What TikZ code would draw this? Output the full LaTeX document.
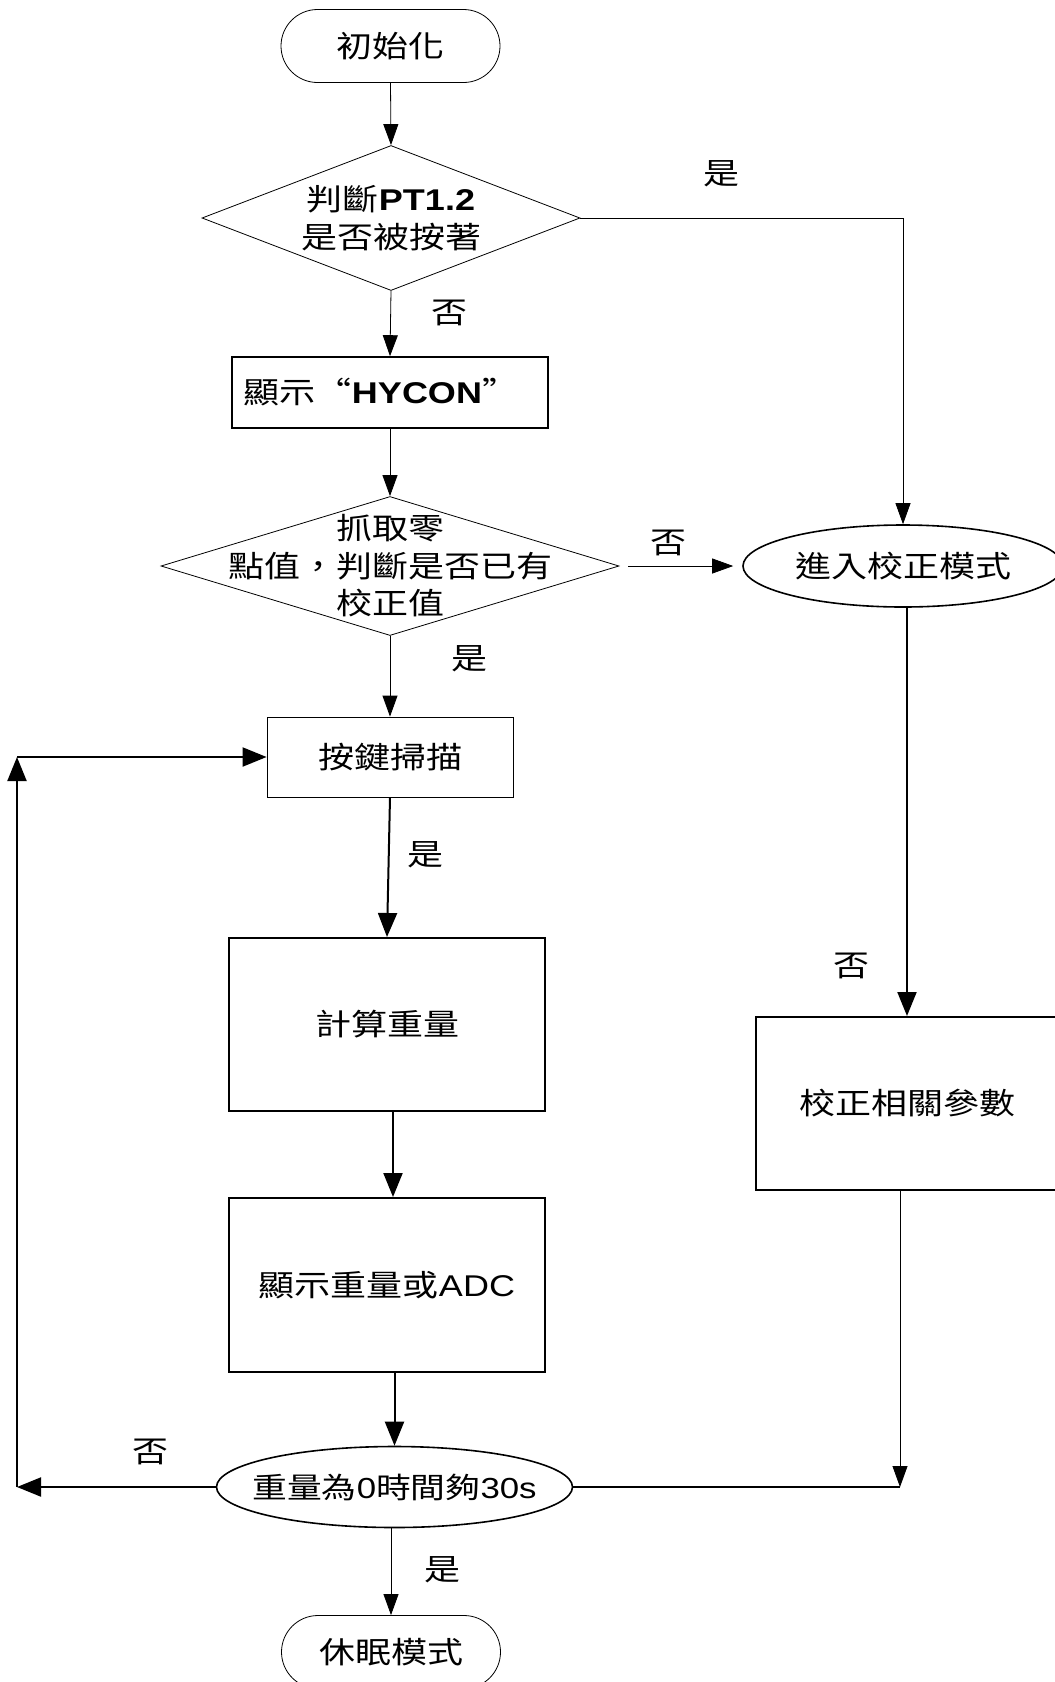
\documentclass[tikz,border=0pt]{standalone}
\usepackage{fontspec}
\setmainfont{Noto Sans CJK TC}[FakeStretch=1.2]
\newfontfamily\lat{Liberation Sans}[FakeStretch=1.2]
\usetikzlibrary{arrows.meta,shapes.geometric,shapes.misc}
\tikzset{
  thinl/.style={line width=0.8pt},
  thickl/.style={line width=2pt},
  arr/.style={-{Triangle[length=21pt,width=15pt]}},
  tarr/.style={-{Triangle[length=24pt,width=19pt]}},
  txt/.style={font=\fontsize{30}{37.5}\selectfont, align=center, inner sep=0pt},
  term/.style={rounded rectangle, draw, line width=0.8pt, minimum width=219, minimum height=73, inner sep=0pt, txt},
  decision/.style={diamond, draw, line width=0.8pt, inner sep=0pt},
  oval/.style={ellipse, draw, line width=1.6pt, inner sep=0pt},
  boxthin/.style={rectangle, draw, line width=0.8pt, inner sep=0pt, txt},
  boxthick/.style={rectangle, draw, line width=2pt, inner sep=0pt, txt},
  lbl/.style={txt}
}
\begin{document}
\begin{tikzpicture}[x=1pt,y=-1pt]
\useasboundingbox (0,0) rectangle (1055,1682);

% nodes
\node[term] (start) at (390.5,46) {初始化};
\node[decision, minimum width=378, minimum height=145,
      label={[txt]center:{判斷{\lat\bfseries PT1.2}\\是否被按著}}] (d1) at (391,218) {};
\node[rectangle, draw, line width=1.6pt, minimum width=316, minimum height=71,
      label={[txt,xshift=-9pt]center:{顯示“{\lat\bfseries HYCON}”}}] (hy) at (390,392.5) {};
\node[decision, minimum width=458, minimum height=139,
      label={[txt]center:{抓取零\\點值，判斷是否已有\\校正值}}] (d2) at (390,566) {};
\node[oval, minimum width=320, minimum height=82,
      label={[txt]center:{進入校正模式}}] (e1) at (903,566) {};
\node[boxthin, minimum width=246, minimum height=80] (key) at (390,757) {按鍵掃描};
\node[boxthick, minimum width=316, minimum height=173] (calc) at (387,1024.5) {計算重量};
\node[boxthick, minimum width=316, minimum height=174] (disp) at (387,1285) {顯示重量或{\lat ADC}};
\node[boxthick, minimum width=302, minimum height=173] (cal) at (907,1103.5) {校正相關參數};
\node[oval, minimum width=356, minimum height=81,
      label={[txt,font=\fontsize{29}{32}\selectfont]center:{重量為{\lat 0}時間夠{\lat 30s}}}] (ov) at (394.5,1487) {};
\node[term] (sleep) at (391,1652) {休眠模式};

% corner coordinates
\coordinate (cR) at (900,1487);
\coordinate (cL) at (17,1487);
\coordinate (cT) at (17,757);

% connectors
\draw[thinl, arr] (start.south) -- (d1.north);
\draw[thinl, arr] (d1.south) -- (hy.north);
\draw[thinl, arr] (hy.south) -- (d2.north);
\draw[thinl, arr] (d1.east) -- (d1.east -| e1.north) -- (e1.north);
\draw[thinl, arr, shorten <=9pt, shorten >=9pt] (d2.east) -- (e1.west);
\draw[thinl, arr] (d2.south) -- (key.north);
\draw[thickl, tarr] (key.south) -- (calc.north);
\draw[thickl, tarr] ([xshift=6pt]calc.south) -- ([xshift=6pt]calc.south |- disp.north);
\draw[thickl, tarr] (ov.north |- disp.south) -- (ov.north);
\draw[thinl, arr] (sleep.north |- ov.south) -- (sleep.north);
\draw[thickl, tarr] (cal.north |- e1.south) -- (cal.north);
\draw[thinl, arr] (cR |- cal.south) -- (cR);
\draw[thickl] (ov.east) -- (cR);
\draw[thickl, tarr] (ov.west) -- (cL);
\draw[thickl, tarr] (cL) -- (cT);
\draw[thickl, tarr] (cT) -- (key.west);

% labels
\node[lbl] (l1) at (721,174) {是};
\node[lbl] (l2) at (449,313) {否};
\node[lbl] (l3) at (668,543) {否};
\node[lbl] (l4) at (469,659) {是};
\node[lbl] (l5) at (425,855) {是};
\node[lbl] (l6) at (851,966) {否};
\node[lbl] (l7) at (150,1452) {否};
\node[lbl] (l8) at (442,1570) {是};
\end{tikzpicture}
\end{document}
